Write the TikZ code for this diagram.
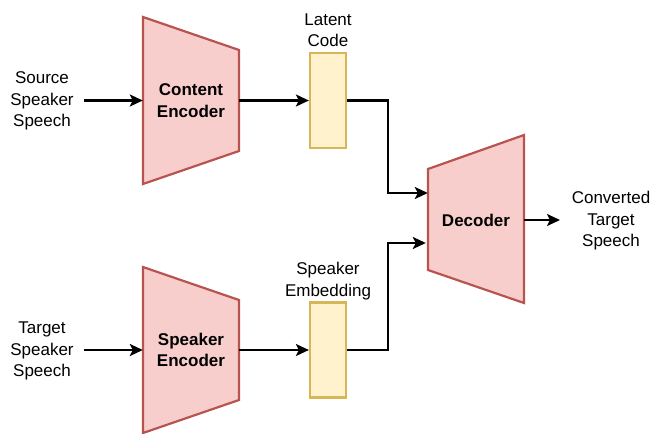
\documentclass[tikz,border=0pt]{standalone}
\usepackage{fontspec}
\setmainfont{Liberation Sans}
\usetikzlibrary{arrows.meta,calc}
\definecolor{redfill}{HTML}{F8CECC}
\definecolor{redline}{HTML}{B85450}
\definecolor{yelfill}{HTML}{FFF2CC}
\definecolor{yelline}{HTML}{D6B656}
\tikzset{
  lbl/.style={align=center,font=\fontsize{17pt}{21.5pt}\selectfont,inner sep=0pt},
  blk/.style={align=center,font=\fontsize{17pt}{21.5pt}\selectfont\bfseries,minimum width=96pt,minimum height=100pt,inner sep=0pt},
  trap/.style={fill=redfill,draw=redline,line width=2.2pt,line join=miter},
  code/.style={fill=yelfill,draw=yelline,line width=2.2pt,minimum width=36pt,minimum height=95pt,inner sep=0pt},
  arr/.style={line width=2.2pt,-{Stealth[length=13pt,width=12pt,inset=3pt]}},
}
\begin{document}
\begin{tikzpicture}[x=1pt,y=-1pt]
\useasboundingbox (0,0) rectangle (652,433);
% trapezoids
\draw[trap] (143,17) -- (239,50) -- (239,151) -- (143,184) -- cycle;
\draw[trap] (143,267) -- (239,300) -- (239,400) -- (143,433) -- cycle;
\draw[trap] (428,169) -- (524,135) -- (524,303) -- (428,270) -- cycle;
% block nodes
\node[blk] (ce) at (191,100.5) {Content\\Encoder};
\node[blk] (se) at (191,350) {Speaker\\Encoder};
\node[blk] (dec) at (476,220) {Decoder};
% codes
\node[code] (lc) at (328,100.5) {};
\node[code] (emb) at (328,350) {};
\node[lbl] (lcl) at (328,30) {Latent\\Code};
\node[lbl] (embl) at (328,281) {Speaker\\Embedding};
% inputs / output
\node[lbl,inner xsep=10pt] (src) at (42,101) {Source\\Speaker\\Speech};
\node[lbl,inner xsep=10pt] (tgt) at (42,351) {Target\\Speaker\\Speech};
\node[lbl,inner xsep=0pt] (out) at (611,221) {Converted\\Target\\Speech};
\coordinate (din1) at ($(dec.west)+(0,-27)$);
\coordinate (din2) at ($(dec.west)+(-2,23)$);
\coordinate (dout) at (560,220);
% connectors
\draw[arr] (src.east |- ce.west) -- (ce.west);
\draw[arr] (tgt.east |- se.west) -- (se.west);
\draw[arr] (ce.east) -- (lc.west);
\draw[arr] (se.east) -- (emb.west);
\draw[arr] (lc.east) -- ++(41,0) |- (din1);
\draw[arr] (emb.east) -- ++(41,0) |- (din2);
\draw[arr] (dec.east |- dout) -- (dout);
\end{tikzpicture}
\end{document}
